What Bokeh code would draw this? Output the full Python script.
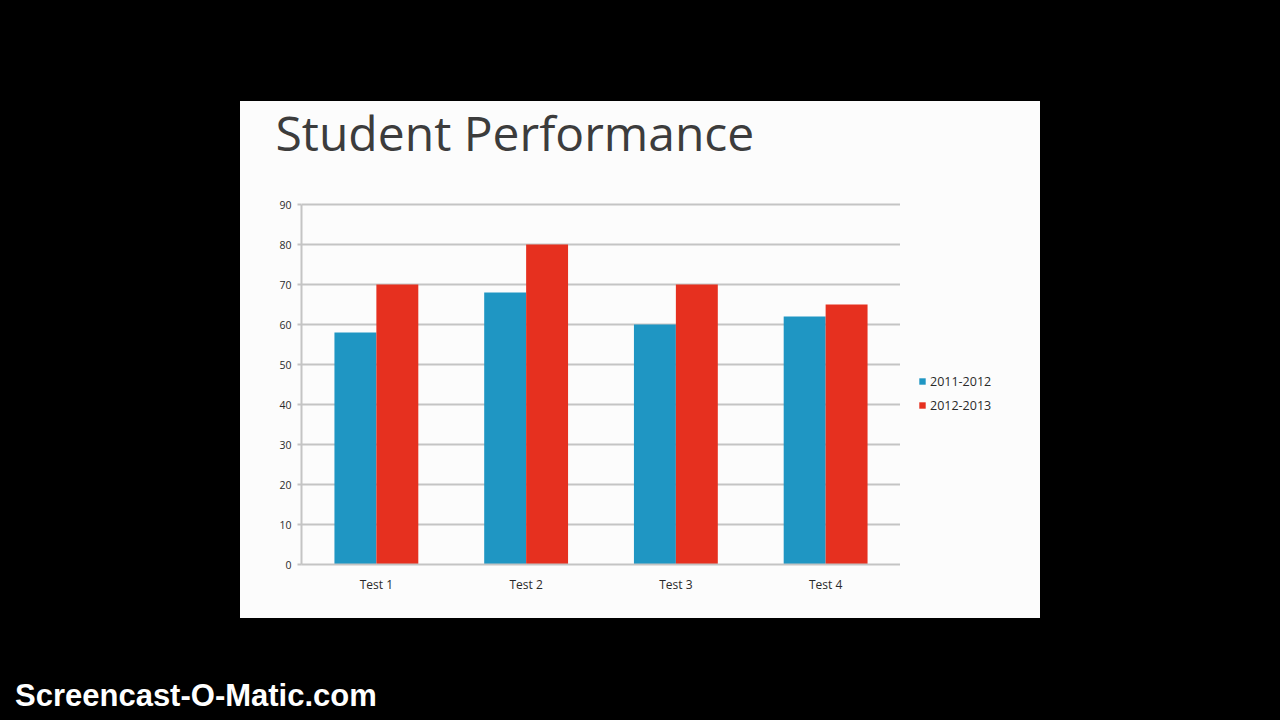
from bokeh.plotting import figure
from bokeh.models import (FactorRange, Range1d, FixedTicker, Legend, LegendItem,
                          ColumnDataSource, Div, Label)
from bokeh.transform import dodge
from bokeh.layouts import column, row
from bokeh.embed import file_html
from bokeh.resources import INLINE

tests = ["Test 1", "Test 2", "Test 3", "Test 4"]
series_names = ["2011-2012", "2012-2013"]
values_2011 = [58, 68, 60, 62]
values_2012 = [70, 80, 70, 65]
y_ticks = [0, 10, 20, 30, 40, 50, 60, 70, 80, 90]
chart_title = "Student Performance"

BG = "#fcfcfc"
BLUE = "#1f96c3"
RED = "#e6301f"


def bare(fig):
    fig.background_fill_color = BG
    fig.border_fill_color = BG
    fig.outline_line_color = BG
    fig.outline_line_alpha = 0
    fig.min_border_left = fig.min_border_right = 0
    fig.min_border_top = fig.min_border_bottom = 0
    return fig


# --- title strip of the slide
pt = bare(figure(width=800, height=91, x_range=Range1d(0, 1), y_range=Range1d(0, 1),
                 x_axis_type=None, y_axis_type=None, output_backend="svg",
                 toolbar_location=None))
pt.grid.visible = False
pt.add_layout(Label(x=35, y=60, x_units="screen", y_units="screen", text=chart_title,
                    text_font="Open Sans", text_font_size="48px", text_color="#3c3c3c",
                    text_align="left", text_baseline="alphabetic"))

# --- chart
src = ColumnDataSource(dict(test=tests, a=values_2011, b=values_2012))

p = figure(x_range=FactorRange(*tests), y_range=Range1d(0, 90.5),
           frame_width=599, frame_height=362, output_backend="svg", toolbar_location=None)
p.background_fill_color = BG
p.border_fill_color = BG
p.outline_line_color = BG
p.outline_line_alpha = 0
p.min_border_left = 61
p.min_border_right = 0
p.min_border_top = 10
p.min_border_bottom = 54

r1 = p.vbar(x=dodge("test", -0.14, range=p.x_range), top="a", width=0.28,
            source=src, fill_color=BLUE, line_color=None)
r2 = p.vbar(x=dodge("test", 0.14, range=p.x_range), top="b", width=0.28,
            source=src, fill_color=RED, line_color=None)

p.yaxis.ticker = FixedTicker(ticks=y_ticks)
p.yaxis.bounds = (0, 90)
p.ygrid.ticker = FixedTicker(ticks=y_ticks)
p.xgrid.grid_line_color = None
p.ygrid.grid_line_color = "#c4c4c4"
p.ygrid.grid_line_width = 2

for ax in (p.xaxis[0], p.yaxis[0]):
    ax.axis_line_color = "#c4c4c4"
    ax.axis_line_width = 2
    ax.major_label_text_font = "Open Sans"
    ax.major_label_text_color = "#2a2a2a"
    ax.minor_tick_line_color = None
p.yaxis.major_label_text_font_size = "10.5px"
p.xaxis.major_label_text_font_size = "12px"
p.yaxis.major_tick_line_color = "#c4c4c4"
p.yaxis.major_tick_line_width = 2
p.yaxis.major_tick_in = 0
p.yaxis.major_tick_out = 4
p.yaxis.major_label_standoff = 6
p.xaxis.major_tick_line_color = None
p.xaxis.major_label_standoff = 5

# --- legend strip at the right of the chart (its bars lie far outside its view)
pl = bare(figure(width=140, height=426, x_range=FactorRange(*tests),
                 y_range=Range1d(-1000, -999),
                 x_axis_type=None, y_axis_type=None, output_backend="svg",
                 toolbar_location=None))
pl.grid.visible = False
l1 = pl.vbar(x=dodge("test", 50, range=pl.x_range), top="a", width=0.28, source=src,
             fill_color=BLUE, line_color=None)
l2 = pl.vbar(x=dodge("test", 50, range=pl.x_range), top="b", width=0.28, source=src,
             fill_color=RED, line_color=None)
legend = Legend(items=[LegendItem(label=series_names[0], renderers=[l1]),
                       LegendItem(label=series_names[1], renderers=[l2])],
                orientation="vertical", location=(18, 149))
legend.background_fill_alpha = 0
legend.border_line_color = None
legend.glyph_width = 8
legend.glyph_height = 8
legend.label_text_font = "Open Sans"
legend.label_text_font_size = "12.5px"
legend.label_text_color = "#2a2a2a"
legend.label_height = 20
legend.spacing = 4
legend.padding = 0
legend.margin = 0
legend.label_standoff = 4
pl.add_layout(legend)

chart_row = row(p, pl, styles={"background-color": BG})
slide = column(pt, chart_row, margin=(101, 0, 0, 240), styles={"background-color": BG})

mark = Div(text="Screencast-O-Matic.com",
           styles={"color": "#ffffff", "font-family": "Liberation Sans, Arial, sans-serif",
                   "font-weight": "bold", "font-size": "31px", "white-space": "nowrap"},
           margin=(56, 0, 0, 15))

layout = column(slide, mark)
html = file_html(layout, INLINE, title="Student Performance")
html = html.replace("</head>", "<style>html,body{background:#000000;}</style></head>", 1)
open("out.html", "w").write(html)
